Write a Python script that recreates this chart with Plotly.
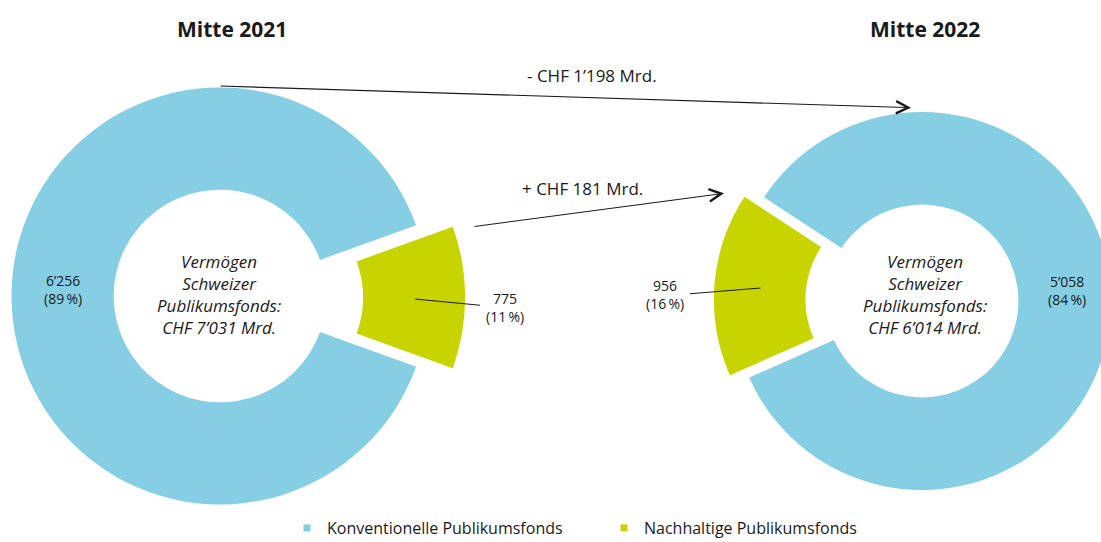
import plotly.graph_objects as go

# ---------------- data ----------------
years = ["Mitte 2021", "Mitte 2022"]
categories = ["Nachhaltige Publikumsfonds", "Konventionelle Publikumsfonds"]
nachhaltig = [775, 956]          # CHF Mrd.
konventionell = [6256, 5058]     # CHF Mrd.

# ---------------- style ----------------
W, H = 1120, 542
BLUE = "#85CEE3"
GREEN = "#C8D400"
TXT = "#1a1a1a"
FONT = "Open Sans, Noto Sans, sans-serif"
CLEAR = "rgba(0,0,0,0)"

# geometry (pixels): blue ring centre/radius, green slice apex/radius, green bisector angle
blue_geo = [(220, 296, 208.5), (922, 301, 189)]
green_geo = [(256.6, 297.5, 208.5), (900.8, 299.5, 187)]
bisector = [90, 274.7]   # plotly angle (clockwise from 12 o'clock) of green slice centre
HOLE = 0.51


def fmt(v):
    return f"{v:,}".replace(",", "\u2019")


def dom(cx, cy, R):
    return dict(x=[(cx - R) / W, (cx + R) / W], y=[1 - (cy + R) / H, 1 - (cy - R) / H])


fig = go.Figure()

for i in range(2):
    vals = [nachhaltig[i], konventionell[i]]
    tot = sum(vals)
    rot = bisector[i] - 360 * vals[0] / tot / 2
    # conventional funds ring
    fig.add_trace(go.Pie(
        values=vals, labels=categories, sort=False, direction="clockwise", rotation=rot,
        hole=HOLE, domain=dom(*blue_geo[i]),
        marker=dict(colors=[CLEAR, BLUE], line=dict(width=0)),
        textinfo="none", hoverinfo="skip", showlegend=False,
    ))
    # sustainable funds slice (pulled out)
    fig.add_trace(go.Pie(
        values=vals, labels=categories, sort=False, direction="clockwise", rotation=rot,
        hole=HOLE, domain=dom(*green_geo[i]),
        marker=dict(colors=[GREEN, CLEAR], line=dict(width=0)),
        textinfo="none", hoverinfo="skip", showlegend=False,
    ))

# legend entries
for name, col in [("Konventionelle Publikumsfonds", BLUE), ("Nachhaltige Publikumsfonds", GREEN)]:
    fig.add_trace(go.Scatter(x=[None], y=[None], mode="markers", name=name,
                             marker=dict(symbol="square", size=7, color=col)))

ann = []
# titles
for x, t in zip([232, 925], years):
    ann.append(dict(x=x, y=29, text=f"<b>{t}</b>", font=dict(size=21, color=TXT)))

# centre texts
for x, y, i in [(219, 294, 0), (925, 294, 1)]:
    tot = nachhaltig[i] + konventionell[i]
    ann.append(dict(x=x, y=y,
                    text=f"<i>Vermögen<br>Schweizer<br>Publikumsfonds:<br>CHF {fmt(tot)} Mrd.</i>",
                    font=dict(size=17, color=TXT)))

# data labels
def lab(v, tot):
    return f"{fmt(v)}<br>({round(100 * v / tot)}\u2009%)"

t0 = nachhaltig[0] + konventionell[0]
t1 = nachhaltig[1] + konventionell[1]
LS = 14
ann.append(dict(x=63, y=289, text=lab(konventionell[0], t0), font=dict(size=LS, color=TXT)))
ann.append(dict(x=505, y=307, text=lab(nachhaltig[0], t0), font=dict(size=LS, color=TXT)))
ann.append(dict(x=665, y=294, text=lab(nachhaltig[1], t1), font=dict(size=LS, color=TXT)))
ann.append(dict(x=1067, y=290.5, text=lab(konventionell[1], t1), font=dict(size=LS, color=TXT)))

# change annotations
d_konv = konventionell[1] - konventionell[0]
d_nach = nachhaltig[1] - nachhaltig[0]
ann.append(dict(x=592, y=75, text=f"{'-' if d_konv < 0 else '+'} CHF {fmt(abs(d_konv))} Mrd.",
                font=dict(size=17, color=TXT)))
ann.append(dict(x=582, y=188, text=f"{'-' if d_nach < 0 else '+'} CHF {fmt(abs(d_nach))} Mrd.",
                font=dict(size=17, color=TXT)))

# arrows
for (x0, y0, x1, y1) in [(219, 86, 911, 107.7), (473, 226.7, 724, 193.3)]:
    ann.append(dict(x=x1, y=y1, ax=x0, ay=y0, axref="x", ayref="y", text="",
                    showarrow=True, arrowhead=5, arrowsize=2.2, arrowwidth=1.1,
                    arrowcolor=TXT, standoff=0, startstandoff=0))

for a in ann:
    a.setdefault("xref", "x")
    a.setdefault("yref", "y")
    a.setdefault("showarrow", False)

shapes = [
    dict(type="line", x0=415, y0=299, x1=480, y1=305.3, line=dict(color=TXT, width=1.1)),
    dict(type="line", x0=690, y0=293.7, x1=760.7, y1=288, line=dict(color=TXT, width=1.1)),
]
for s in shapes:
    s["xref"] = "x"
    s["yref"] = "y"

fig.update_layout(
    width=W, height=H,
    margin=dict(l=0, r=0, t=0, b=0, pad=0, autoexpand=False),
    paper_bgcolor="white", plot_bgcolor="white",
    font=dict(family=FONT, color=TXT),
    xaxis=dict(range=[0, W], visible=False, fixedrange=True),
    yaxis=dict(range=[H, 0], visible=False, fixedrange=True),
    annotations=ann, shapes=shapes,
    showlegend=True,
    legend=dict(orientation="h", x=287 / W, xanchor="left", y=1 - 511 / H, yanchor="top",
                font=dict(size=16, color=TXT), entrywidth=272, entrywidthmode="pixels",
                bgcolor=CLEAR, borderwidth=0),
)

fig.write_html("out.html", config={"displayModeBar": False},
               post_script="document.body.style.margin='0';document.body.style.overflow='hidden';"
                           "document.documentElement.style.overflow='hidden';")
